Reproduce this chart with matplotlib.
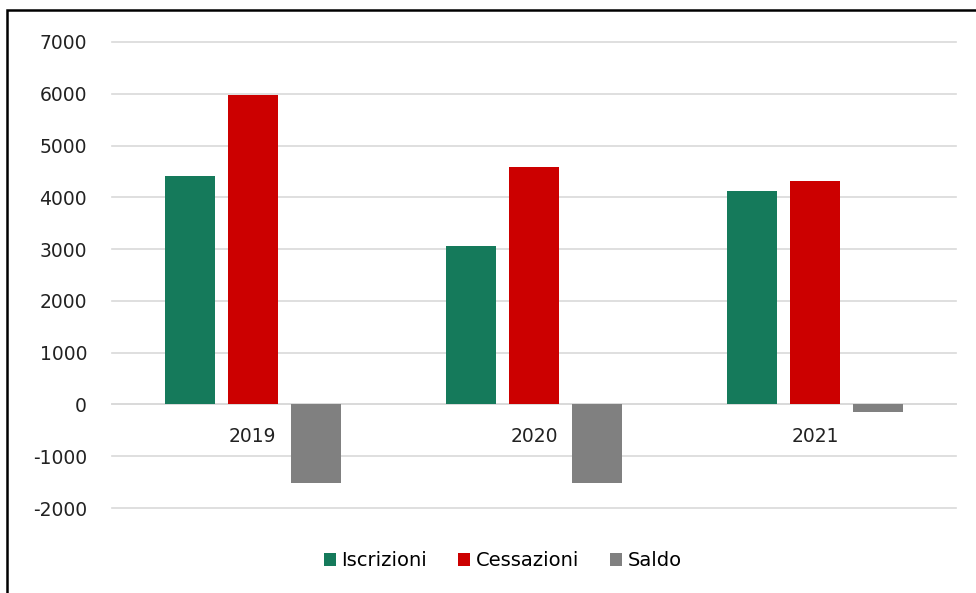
import numpy as np
import matplotlib
matplotlib.use("Agg")
import matplotlib.pyplot as plt
from matplotlib.patches import Rectangle

anni = ["2019", "2020", "2021"]
iscrizioni = [4420, 3065, 4125]
cessazioni = [5980, 4590, 4320]
saldo = [-1525, -1525, -155]

plt.rcParams['font.family'] = ['DejaVu Sans']
plt.rcParams['axes.unicode_minus'] = False

fig = plt.figure(figsize=(9.76, 5.93), dpi=100)
ax = fig.add_axes([112/976, 1-508/593, (956-112)/976, (508-42)/593])

x = np.arange(len(anni))
w = 0.178
off = 0.224
ax.bar(x-off, iscrizioni, w, color='#157a5b', label='Iscrizioni', zorder=3)
ax.bar(x, cessazioni, w, color='#cc0000', label='Cessazioni', zorder=3)
ax.bar(x+off, saldo, w, color='#808080', label='Saldo', zorder=3)

ax.set_xlim(-0.5, 2.5)
ax.set_ylim(-2000, 7000)
ax.set_yticks(range(-2000, 7001, 1000))
ax.yaxis.grid(True, color='#d9d9d9', lw=1.2)
for gl in ax.get_ygridlines():
    gl.set_clip_on(False)
ax.set_axisbelow(True)
for s in ['top', 'right', 'left']:
    ax.spines[s].set_visible(False)
ax.spines['bottom'].set_position(('data', 0))
ax.spines['bottom'].set_color('#d9d9d9')
ax.spines['bottom'].set_linewidth(1.2)
ax.spines['bottom'].set_zorder(1)
ax.set_xticks(x)
ax.set_xticklabels(anni)
ax.tick_params(axis='x', length=0, pad=16, labelsize=13.5, colors='#222222')
ax.tick_params(axis='y', length=0, pad=18, labelsize=13.5, colors='#222222')

fig.legend(loc='center', bbox_to_anchor=(503/976, 1-561/593), ncol=3, frameon=False,
           fontsize=14, handlelength=0.6, handleheight=0.6, handletextpad=0.3,
           columnspacing=1.6)

fig.patches.append(Rectangle((7/976, -0.05), 1.1, 1-10/593+0.05, transform=fig.transFigure,
                             fill=False, edgecolor='black', lw=1.8))

fig.savefig("out.png", dpi=100)
